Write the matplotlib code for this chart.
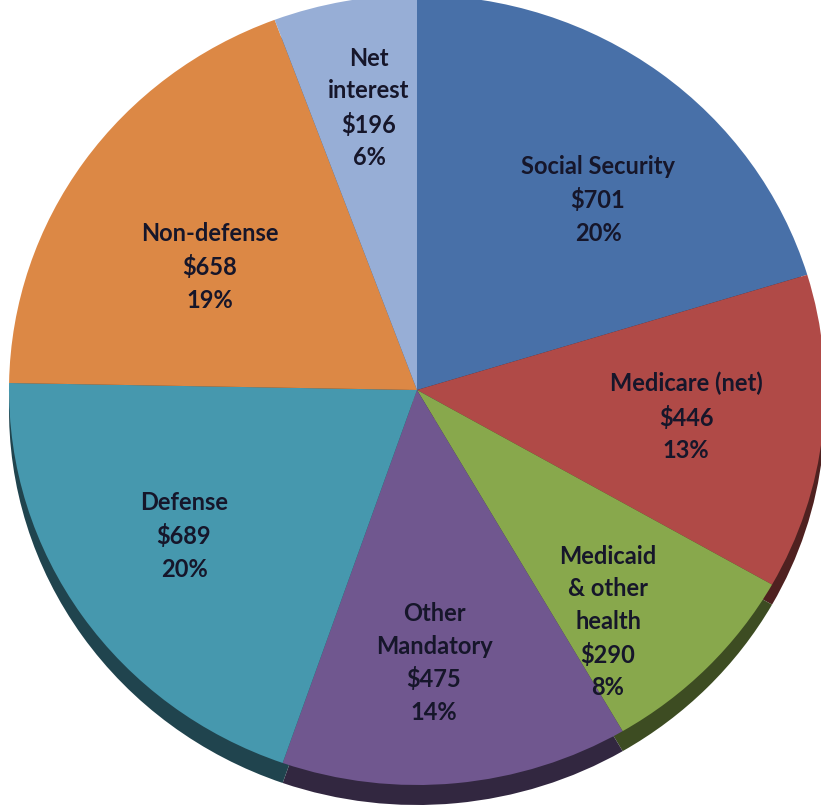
import matplotlib.pyplot as plt
import matplotlib.colors as mcolors

# outlays, billions of dollars
categories = ["Social Security", "Medicare (net)", "Medicaid\n& other\nhealth",
              "Other\nMandatory", "Defense", "Non-defense", "Net\ninterest"]
amounts = [701, 446, 290, 475, 689, 658, 196]
colors = ["#4870a8", "#b04a47", "#88a84c", "#70578f", "#4698ae", "#dc8845", "#97aed6"]

# label anchor points in pixels (x, y from top)
label_pos = [(598, 200), (686, 417), (608, 622), (434, 663),
             (184, 536), (210, 267), (369, 108)]

W, H = 821, 808
CX, CY = 417, 390      # pie centre in pixels
RX, RY = 408, 395      # horizontal / vertical radius in pixels
RIM = 20               # depth of the 3-D edge

fig = plt.figure(figsize=(W / 100, H / 100), dpi=100)
ax = fig.add_axes([0, 0, 1, 1])
ax.axis("off")


def px(x, y):
    return (x - CX) / RX, (CY - y) / RY


def darken(c, f):
    r, g, b = mcolors.to_rgb(c)
    return (r * f, g * f, b * f)


# darker copy shifted down gives the edge of the disc
ax.pie(amounts, colors=[darken(c, 0.45) for c in colors], startangle=90,
       counterclock=False, radius=1, center=(0, -RIM / RY),
       wedgeprops=dict(linewidth=0))
ax.pie(amounts, colors=colors, startangle=90, counterclock=False, radius=1,
       center=(0, 0), wedgeprops=dict(linewidth=0))

total = sum(amounts)
for name, amt, (x, y) in zip(categories, amounts, label_pos):
    pct = round(100 * amt / total)
    txt = "%s\n$%d\n%d%%" % (name, amt, pct)
    ax.text(*px(x, y), txt, ha="center", va="center", fontsize=17,
            family="Lato", fontweight="bold", color="#16162a",
            linespacing=1.5)

ax.set_xlim(-CX / RX, (W - CX) / RX)
ax.set_ylim(-(H - CY) / RY, CY / RY)
ax.set_aspect("auto")
fig.savefig("out.png", dpi=100, facecolor="white")
